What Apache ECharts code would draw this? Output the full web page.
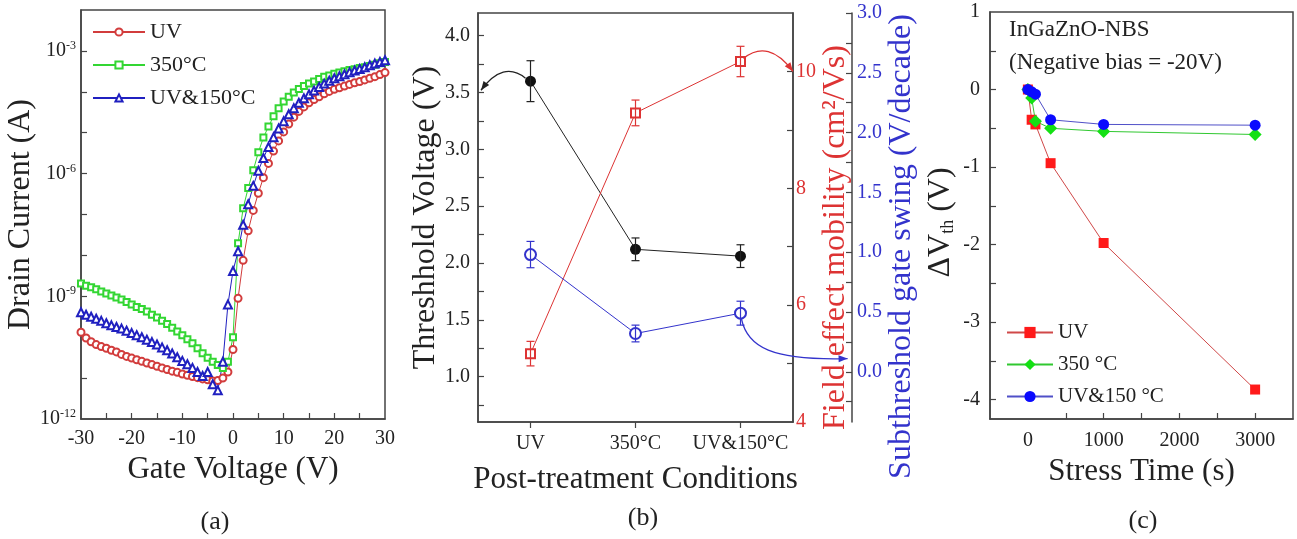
<!DOCTYPE html>
<html>
<head>
<meta charset="utf-8">
<script src="https://cdn.jsdelivr.net/npm/echarts@6/dist/echarts.min.js"></script>
<style>
html, body { margin: 0; padding: 0; background: #fff; }
#chart { width: 1297px; height: 539px; }
</style>
</head>
<body>
<div id="chart"></div>
<script>
// ---------- (a) transfer curves (log10 of drain current, A) ----------
const gateV = [-30, -29, -28, -27, -26, -25, -24, -23, -22, -21,
	-20, -19, -18, -17, -16, -15, -14, -13, -12, -11,
	-10, -9, -8, -7, -6, -5, -4, -3, -2, -1,
	0, 1, 2, 3, 4, 5, 6, 7, 8, 9,
	10, 11, 12, 13, 14, 15, 16, 17, 18, 19,
	20, 21, 22, 23, 24, 25, 26, 27, 28, 29, 30]
const idUvLog = [-9.88, -10.02, -10.11, -10.18, -10.23, -10.27, -10.32, -10.36, -10.42, -10.47,
	-10.51, -10.55, -10.59, -10.63, -10.67, -10.71, -10.75, -10.79, -10.83, -10.86,
	-10.90, -10.93, -10.96, -10.99, -11.02, -11.04, -11.07, -11.06, -11.00, -10.85,
	-10.30, -9.05, -8.12, -7.40, -6.90, -6.48, -6.10, -5.75, -5.45, -5.20,
	-4.98, -4.79, -4.62, -4.48, -4.37, -4.27, -4.19, -4.12, -4.05, -3.99,
	-3.94, -3.90, -3.86, -3.82, -3.78, -3.75, -3.71, -3.67, -3.63, -3.58, -3.53]
const id350Log = [-8.69, -8.74, -8.78, -8.83, -8.88, -8.93, -8.98, -9.03, -9.08, -9.14,
	-9.20, -9.26, -9.31, -9.37, -9.45, -9.52, -9.60, -9.68, -9.77, -9.86,
	-9.95, -10.05, -10.15, -10.27, -10.39, -10.50, -10.60, -10.68, -10.75, -10.60,
	-10.00, -7.70, -6.85, -6.35, -5.92, -5.48, -5.12, -4.85, -4.60, -4.40,
	-4.24, -4.12, -4.02, -3.93, -3.86, -3.80, -3.75, -3.69, -3.63, -3.60,
	-3.56, -3.53, -3.50, -3.47, -3.45, -3.42, -3.40, -3.37, -3.34, -3.30, -3.27]
const idUv150Log = [-9.39, -9.45, -9.50, -9.55, -9.60, -9.66, -9.71, -9.75, -9.79, -9.84,
	-9.90, -9.95, -10.00, -10.06, -10.12, -10.18, -10.25, -10.32, -10.40, -10.49,
	-10.58, -10.66, -10.75, -10.85, -10.95, -10.85, -11.15, -11.30, -10.60, -9.20,
	-8.38, -7.90, -7.25, -6.75, -6.30, -5.93, -5.62, -5.35, -5.11, -4.90,
	-4.72, -4.55, -4.40, -4.27, -4.16, -4.06, -3.97, -3.88, -3.80, -3.73,
	-3.67, -3.62, -3.57, -3.52, -3.48, -3.44, -3.40, -3.35, -3.31, -3.27, -3.23]
const aNames = ['UV', '350°C', 'UV&150°C']
const aXLabels = [-30, -20, -10, 0, 10, 20, 30]
const aXTicks = [-25, -20, -15, -10, -5, 0, 5, 10, 15, 20, 25]
const aYLabels = [1e-12, 1e-9, 1e-6, 1e-3]
const aYTicks = [1e-11, 1e-10, 1e-9, 1e-8, 1e-7, 1e-6, 1e-5, 1e-4, 1e-3]

// ---------- (b) device parameters per treatment ----------
const bConds = ['UV', '350°C', 'UV&150°C']
const vthMean = [3.60, 2.12, 2.06]
const vthErr = [0.18, 0.10, 0.10]
const mobMean = [5.17, 9.29, 10.17]
const mobErr = [0.21, 0.22, 0.26]
const ssMean = [0.98, 0.32, 0.49]
const ssErr = [0.11, 0.07, 0.10]
const bVthLabels = [1.0, 1.5, 2.0, 2.5, 3.0, 3.5, 4.0]
const bVthTicks = [0.75, 1.0, 1.25, 1.5, 1.75, 2.0, 2.25, 2.5, 2.75, 3.0, 3.25, 3.5, 3.75, 4.0]
const bMobLabels = [4, 6, 8, 10]
const bMobTicks = [5, 6, 7, 8, 9, 10]
const bSsLabels = [0.0, 0.5, 1.0, 1.5, 2.0, 2.5, 3.0]
const bSsTicks = [-0.25, 0, 0.25, 0.5, 0.75, 1.0, 1.25, 1.5, 1.75, 2.0, 2.25, 2.5, 2.75, 3.0]

// ---------- (c) NBS threshold shift ----------
const stressT = [0, 50, 100, 300, 1000, 3000]
const dvUv = [0, -0.39, -0.45, -0.95, -1.98, -3.87]
const dv350 = [0, -0.11, -0.41, -0.50, -0.54, -0.58]
const dvUv150 = [0, -0.03, -0.06, -0.39, -0.45, -0.46]
const cNames = ['UV ', '350 °C', 'UV&150 °C']
const cXLabels = [0, 1000, 2000, 3000]
const cXTicks = [500, 1000, 1500, 2000, 2500, 3000]
const cYLabels = [-4, -3, -2, -1, 0, 1]
const cYTicks = [-4, -3.5, -3, -2.5, -2, -1.5, -1, -0.5, 0, 0.5]

const FONT = 'Liberation Serif'
const AX = '#444'
const RED_B = '#dd3333'
const BLUE_B = '#3333cc'

const chart = echarts.init(document.getElementById('chart'))

const axisBase = (extra) => Object.assign({
	axisLine: { show: true, onZero: false, lineStyle: { color: AX, width: 1.5 } },
	splitLine: { show: false },
	nameLocation: 'middle',
	nameTextStyle: { color: '#222', fontFamily: FONT, fontSize: 31 }
}, extra)

const ticks = (values, inside) => ({
	show: true, inside: inside, length: 6, customValues: values, lineStyle: { color: AX, width: 1.2 }
})

const errBar = (color, yAxisIndex, mean, err) => ({
	type: 'custom',
	xAxisIndex: 1,
	yAxisIndex: yAxisIndex,
	z: 5,
	silent: true,
	data: mean.map((m, i) => [i, m - err[i], m + err[i]]),
	encode: { x: 0, y: [1, 2] },
	renderItem: (params, api) => {
		const x = api.value(0)
		const lo = api.coord([x, api.value(1)])
		const hi = api.coord([x, api.value(2)])
		const w = 4
		const st = { stroke: color, lineWidth: 1.2 }
		return {
			type: 'group',
			children: [
				{ type: 'line', shape: { x1: lo[0], y1: lo[1], x2: hi[0], y2: hi[1] }, style: st },
				{ type: 'line', shape: { x1: lo[0] - w, y1: lo[1], x2: lo[0] + w, y2: lo[1] }, style: st },
				{ type: 'line', shape: { x1: hi[0] - w, y1: hi[1], x2: hi[0] + w, y2: hi[1] }, style: st }
			]
		}
	}
})

const option = {
	backgroundColor: '#fff',
	animation: false,
	textStyle: { fontFamily: FONT },
	grid: [
		{ left: 81, top: 10, width: 304, height: 409, show: true, borderColor: AX, borderWidth: 1.5, backgroundColor: 'transparent' },
		{ left: 478, top: 13, width: 315, height: 409, show: true, borderColor: AX, borderWidth: 1.5, backgroundColor: 'transparent' },
		{ left: 990, top: 12, width: 303, height: 407, show: true, borderColor: AX, borderWidth: 1.5, backgroundColor: 'transparent' }
	],
	legend: [
		{
			left: 92, top: 21, orient: 'vertical', padding: 0, itemGap: 11,
			itemWidth: 52, itemHeight: 9,
			data: aNames,
			textStyle: { fontFamily: FONT, fontSize: 22, color: '#222' }
		},
		{
			left: 1006, top: 322, orient: 'vertical', padding: 0, itemGap: 11,
			itemWidth: 46, itemHeight: 14,
			data: cNames,
			formatter: (n) => n.trim(),
			textStyle: { fontFamily: FONT, fontSize: 21, color: '#222' }
		}
	],
	xAxis: [
		axisBase({
			gridIndex: 0, type: 'value', min: -30, max: 30,
			name: 'Gate Voltage (V)', nameGap: 34,
			axisTick: ticks(aXTicks, true),
			axisLabel: { color: '#222', fontFamily: FONT, fontSize: 20, margin: 10, customValues: aXLabels }
		}),
		axisBase({
			gridIndex: 1, type: 'value', min: -0.5, max: 2.5,
			name: 'Post-treatment Conditions', nameGap: 42,
			axisTick: ticks([0, 1, 2], false),
			axisLabel: { color: '#222', fontFamily: FONT, fontSize: 20, margin: 12, customValues: [0, 1, 2], formatter: (v) => bConds[Math.round(v)] }
		}),
		axisBase({
			gridIndex: 2, type: 'value', min: -500, max: 3500,
			name: 'Stress Time (s)', nameGap: 34,
			axisTick: ticks(cXTicks, true),
			axisLabel: { color: '#222', fontFamily: FONT, fontSize: 20, margin: 12, customValues: cXLabels, formatter: (v) => String(v) }
		})
	],
	yAxis: [
		axisBase({
			gridIndex: 0, type: 'log', logBase: 10, min: 1e-12, max: 1e-2,
			name: 'Drain Current (A)', nameGap: 28,
			nameTextStyle: { color: '#222', fontFamily: FONT, fontSize: 32 },
			axisTick: ticks(aYTicks, true),
			axisLabel: {
				color: '#222', fontFamily: FONT, fontSize: 20, margin: 5, customValues: aYLabels,
				formatter: (v) => '10{sup|' + Math.round(Math.log10(v)) + '}',
				rich: { sup: { fontSize: 12, fontFamily: FONT, color: '#222', verticalAlign: 'top', padding: [0, 0, 10, 0] } }
			}
		}),
		axisBase({
			gridIndex: 1, type: 'value', position: 'left', min: 0.6, max: 4.2,
			name: 'Threshhold Voltage (V)', nameGap: 36,
			nameTextStyle: { color: '#222', fontFamily: FONT, fontSize: 32 },
			axisTick: ticks(bVthTicks, true),
			axisLabel: { color: '#222', fontFamily: FONT, fontSize: 20, margin: 8, customValues: bVthLabels, formatter: (v) => v.toFixed(1) }
		}),
		axisBase({
			gridIndex: 1, type: 'value', position: 'right', min: 4, max: 11,
			name: 'Field effect mobility (cm²/Vs)', nameGap: 14,
			nameTextStyle: { color: RED_B, fontFamily: FONT, fontSize: 32, padding: [0, 40, 0, 0] },
			axisTick: ticks(bMobTicks, true),
			axisLabel: { color: RED_B, fontFamily: FONT, fontSize: 20, margin: 3, customValues: bMobLabels }
		}),
		axisBase({
			gridIndex: 1, type: 'value', position: 'right', offset: 59, min: -0.42, max: 3.0,
			name: 'Subthreshold gate swing (V/decade)', nameGap: 24,
			nameTextStyle: { color: BLUE_B, fontFamily: FONT, fontSize: 32, padding: [0, 58, 0, 0] },
			axisTick: ticks(bSsTicks, true),
			axisLabel: { color: BLUE_B, fontFamily: FONT, fontSize: 20, margin: 5, customValues: bSsLabels, formatter: (v) => v.toFixed(1) }
		}),
		axisBase({
			gridIndex: 2, type: 'value', min: -4.25, max: 1,
			name: 'ΔV{sub|th} (V)', nameGap: 33,
			nameTextStyle: {
				color: '#222', fontFamily: FONT, fontSize: 32, padding: [0, 14, 0, 0],
				rich: { sub: { fontSize: 18, fontFamily: FONT, color: '#222', verticalAlign: 'bottom', padding: [12, 0, 0, 0] } }
			},
			axisTick: ticks(cYTicks, true),
			axisLabel: { color: '#222', fontFamily: FONT, fontSize: 20, margin: 10, customValues: cYLabels }
		})
	],
	series: [
		// (a)
		{
			name: aNames[0], type: 'line', xAxisIndex: 0, yAxisIndex: 0,
			symbol: 'emptyCircle', symbolSize: 7,
			itemStyle: { color: '#d23c3c', borderWidth: 1.2 },
			lineStyle: { color: '#d23c3c', width: 1 },
			data: gateV.map((v, i) => [v, Math.pow(10, idUvLog[i])])
		},
		{
			name: aNames[1], type: 'line', xAxisIndex: 0, yAxisIndex: 0,
			symbol: 'emptyRect', symbolSize: 6,
			itemStyle: { color: '#33d633', borderWidth: 1.2 },
			lineStyle: { color: '#33d633', width: 1 },
			data: gateV.map((v, i) => [v, Math.pow(10, id350Log[i])])
		},
		{
			name: aNames[2], type: 'line', xAxisIndex: 0, yAxisIndex: 0,
			symbol: 'emptyTriangle', symbolSize: 8,
			itemStyle: { color: '#2020c0', borderWidth: 1.2 },
			lineStyle: { color: '#2020c0', width: 1 },
			data: gateV.map((v, i) => [v, Math.pow(10, idUv150Log[i])])
		},
		// (b)
		{
			name: 'Vth', type: 'line', xAxisIndex: 1, yAxisIndex: 1,
			symbol: 'circle', symbolSize: 11,
			itemStyle: { color: '#111' },
			lineStyle: { color: '#222', width: 1 },
			data: vthMean.map((m, i) => [i, m])
		},
		{
			name: 'Mobility', type: 'line', xAxisIndex: 1, yAxisIndex: 2,
			symbol: 'emptyRect', symbolSize: 9,
			itemStyle: { color: RED_B, borderWidth: 1.2 },
			lineStyle: { color: RED_B, width: 1 },
			data: mobMean.map((m, i) => [i, m])
		},
		{
			name: 'SS', type: 'line', xAxisIndex: 1, yAxisIndex: 3,
			symbol: 'emptyCircle', symbolSize: 11,
			itemStyle: { color: BLUE_B, borderWidth: 1.2 },
			lineStyle: { color: BLUE_B, width: 1 },
			data: ssMean.map((m, i) => [i, m])
		},
		errBar('#222', 1, vthMean, vthErr),
		errBar(RED_B, 2, mobMean, mobErr),
		errBar(BLUE_B, 3, ssMean, ssErr),
		// (c)
		{
			name: cNames[0], type: 'line', xAxisIndex: 2, yAxisIndex: 4,
			symbol: 'rect', symbolSize: 10,
			itemStyle: { color: '#ff1a1a' },
			lineStyle: { color: '#d04848', width: 1 },
			data: stressT.map((t, i) => [t, dvUv[i]])
		},
		{
			name: cNames[1], type: 'line', xAxisIndex: 2, yAxisIndex: 4,
			symbol: 'diamond', symbolSize: 13,
			itemStyle: { color: '#14e014' },
			lineStyle: { color: '#30c830', width: 1 },
			data: stressT.map((t, i) => [t, dv350[i]])
		},
		{
			name: cNames[2], type: 'line', xAxisIndex: 2, yAxisIndex: 4,
			symbol: 'circle', symbolSize: 11,
			itemStyle: { color: '#0a0aff' },
			lineStyle: { color: '#5050c8', width: 1 },
			data: stressT.map((t, i) => [t, dvUv150[i]])
		}
	]
}

chart.setOption(option)

// curved arrows of panel (b) and the panel captions
const arrowHead = (tip, from, color) => {
	const dx = tip[0] - from[0]
	const dy = tip[1] - from[1]
	const len = Math.sqrt(dx * dx + dy * dy) || 1
	const ux = dx / len
	const uy = dy / len
	const L = 9
	const W = 3.5
	return {
		type: 'polygon',
		shape: { points: [tip, [tip[0] - ux * L - uy * W, tip[1] - uy * L + ux * W], [tip[0] - ux * L + uy * W, tip[1] - uy * L - ux * W]] },
		style: { fill: color },
		z: 10
	}
}

const drawNotes = () => {
	const pv = chart.convertToPixel({ seriesIndex: 3 }, [0, vthMean[0]])
	const pvEnd = chart.convertToPixel({ seriesIndex: 3 }, [-0.5, 3.52])
	const pm = chart.convertToPixel({ seriesIndex: 4 }, [2, mobMean[2]])
	const pmEnd = chart.convertToPixel({ seriesIndex: 4 }, [2.5, 10.0])
	const ps = chart.convertToPixel({ seriesIndex: 5 }, [2, ssMean[2]])
	const psEnd = chart.convertToPixel({ seriesIndex: 5 }, [3.02, 0.11])

	const k0 = [pv[0] - 5, pv[1] - 3]
	const k1 = [pvEnd[0] + 3, pvEnd[1]]
	const kc = [(k0[0] + k1[0]) / 2, k0[1] - 18]

	const r0 = [pm[0] + 3, pm[1] - 3]
	const r1 = [pmEnd[0], pmEnd[1]]
	const rc = [(r0[0] + r1[0]) / 2, r0[1] - 20]

	const b0 = [ps[0] + 1, ps[1] + 6]
	const b1 = [psEnd[0], psEnd[1]]
	const bc1 = [b0[0] + 6, b0[1] + 28]
	const bc2 = [b0[0] + 30, b1[1] + 2]

	const curve = (s, e, c1, c2, color) => ({
		type: 'bezierCurve',
		shape: c2 ? { x1: s[0], y1: s[1], x2: e[0], y2: e[1], cpx1: c1[0], cpy1: c1[1], cpx2: c2[0], cpy2: c2[1] }
			: { x1: s[0], y1: s[1], x2: e[0], y2: e[1], cpx1: c1[0], cpy1: c1[1] },
		style: { stroke: color, lineWidth: 1.3, fill: null },
		z: 10
	})

	const caption = (text, x, y) => ({
		type: 'text', x: x, y: y,
		style: { text: text, fontFamily: FONT, fontSize: 26, fill: '#222', align: 'center', verticalAlign: 'middle' }
	})

	const note = (text, x, y) => ({
		type: 'text', x: x, y: y,
		style: { text: text, fontFamily: FONT, fontSize: 23, fill: '#222', align: 'left', verticalAlign: 'middle' }
	})

	chart.setOption({
		graphic: [
			curve(k0, k1, kc, null, '#222'),
			arrowHead(k1, kc, '#222'),
			curve(r0, r1, rc, null, RED_B),
			arrowHead(r1, rc, RED_B),
			curve(b0, b1, bc1, bc2, BLUE_B),
			arrowHead(b1, bc2, BLUE_B),
			note('InGaZnO-NBS', 1009, 30),
			note('(Negative bias = -20V)', 1009, 63),
			caption('(a)', 215, 522),
			caption('(b)', 643, 518),
			caption('(c)', 1143, 521)
		]
	})
}

drawNotes()
</script>
</body>
</html>
